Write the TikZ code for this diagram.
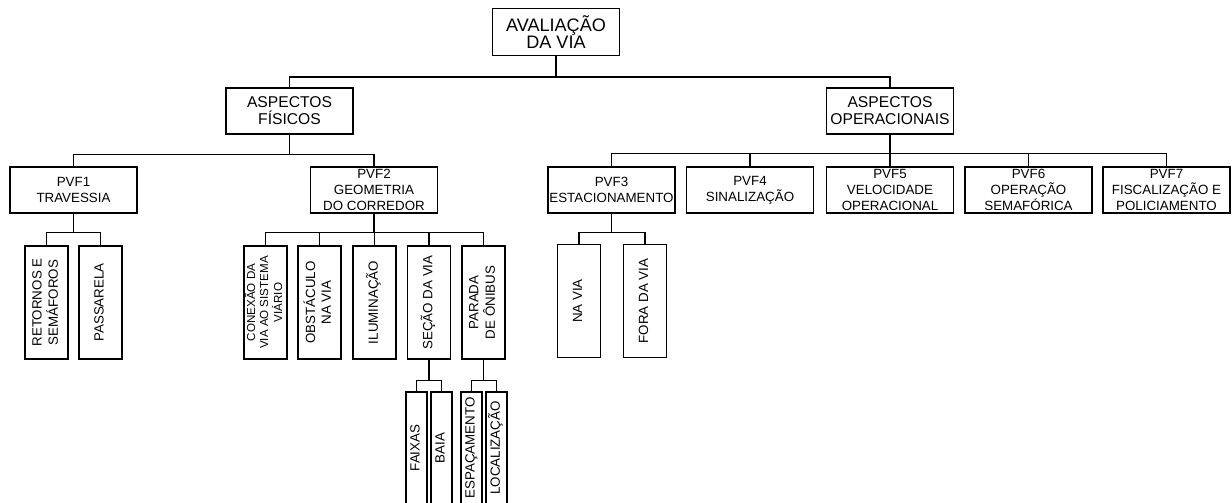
\documentclass[tikz,border=0pt]{standalone}
\usepackage{fontspec}
\setmainfont{Liberation Sans}
\usetikzlibrary{positioning,calc}
\newcommand{\vtxt}[1]{\rotatebox{90}{\begin{tabular}{@{}c@{}}#1\end{tabular}}}

\begin{document}
\begin{tikzpicture}[x=0.02cm,y=-0.02cm,line width=0.6pt,
  caixa/.style={draw,align=center,inner xsep=0pt,inner ysep=1pt,minimum width=2.54cm,minimum height=0.92cm,font=\fontsize{7.6}{9}\selectfont},
  grande/.style={caixa,font=\fontsize{8.9}{9.6}\selectfont},
  vert/.style={draw,inner sep=0pt,minimum width=0.86cm,minimum height=2.26cm,font=\fontsize{7.6}{9}\selectfont},
  fina/.style={vert,minimum width=0.42cm,minimum height=2.24cm}]
  \useasboundingbox (0,0) rectangle (1232,503);
  \clip (0,0) rectangle (1232,503);
  \node[caixa,minimum height=0.94cm,font=\fontsize{10.3}{10}\selectfont] (aval) at (556,32) {AVALIAÇÃO\\DA VIA};
  \node[grande] (fis) at (289.5,111) {ASPECTOS\\FÍSICOS};
  \node[grande] (oper) at (890,111) {ASPECTOS\\OPERACIONAIS};
  \foreach \n/\x/\t in {1/73.5/{PVF1\\TRAVESSIA},2/374/{PVF2\\GEOMETRIA\\DO CORREDOR},
      3/611.5/{PVF3\\ESTACIONAMENTO},4/750/{PVF4\\SINALIZAÇÃO},5/890/{PVF5\\VELOCIDADE\\OPERACIONAL},
      6/1028.5/{PVF6\\OPERAÇÃO\\SEMAFÓRICA},7/1166.5/{PVF7\\FISCALIZAÇÃO E\\POLICIAMENTO}}
    \node[caixa] (pvf\n) at (\x,190) {\t};
  \foreach \nm/\x/\t in {ret/46.5/{RETORNOS E\\SEMÁFOROS},pas/100.5/{PASSARELA},
      obs/319.5/{OBSTÁCULO\\NA VIA},ilu/374.5/{ILUMINAÇÃO},sec/429/{SEÇÃO DA VIA},par/483.5/{PARADA\\DE ÔNIBUS}}
    \node[vert] (\nm) at (\x,302.5) {\vtxt{\t}};
  \node[vert,font=\fontsize{6.6}{7.5}\selectfont] (con) at (265.5,302.5) {\vtxt{CONEXÃO DA\\VIA AO SISTEMA\\VIÁRIO}};
  \node[vert] (nav) at (579,301) {\vtxt{NA VIA}};
  \node[vert] (fdv) at (645,301) {\vtxt{FORA DA VIA}};
  \foreach \nm/\x/\t in {fai/416.5/FAIXAS,bai/441.5/BAIA,esp/471.5/ESPAÇAMENTO,loc/496.5/LOCALIZAÇÃO}
    \node[fina] (\nm) at (\x,448) {\vtxt{\t}};
  \foreach \p/\kids/\h in {aval/{fis,oper}/21,fis/{pvf1,pvf2}/20,oper/{pvf3,pvf4,pvf5,pvf6,pvf7}/19,
      pvf1/{ret,pas}/19,pvf2/{con,obs,ilu,sec,par}/19,pvf3/{nav,fdv}/19,sec/{fai,bai}/21,par/{esp,loc}/21}
    \foreach \k in \kids \draw (\p.south) -- ++(0,\h) -| (\k.north);
\end{tikzpicture}
\end{document}
